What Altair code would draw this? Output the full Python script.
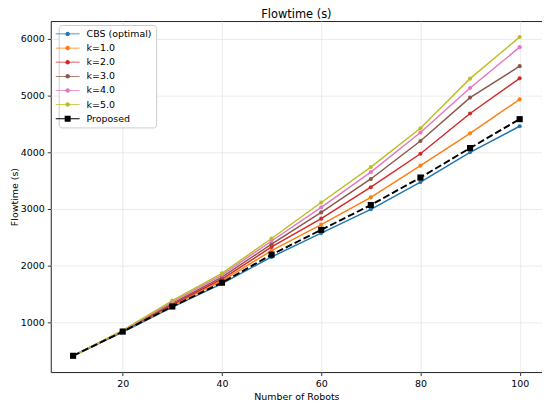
import altair as alt
import pandas as pd

robots = [10, 20, 30, 40, 50, 60, 70, 80, 90, 100]
series_names = ["CBS (optimal)", "k=1.0", "k=2.0", "k=3.0", "k=4.0", "k=5.0", "Proposed"]
cbs = [410, 830, 1270, 1685, 2155, 2575, 2995, 3475, 4000, 4460]
k1 = [410, 840, 1295, 1730, 2265, 2725, 3205, 3765, 4335, 4935]
k2 = [410, 845, 1315, 1765, 2330, 2830, 3385, 3975, 4685, 5305]
k3 = [410, 850, 1335, 1800, 2380, 2940, 3530, 4200, 4965, 5520]
k4 = [410, 855, 1360, 1835, 2435, 3030, 3650, 4350, 5135, 5855]
k5 = [410, 860, 1385, 1865, 2480, 3115, 3740, 4425, 5300, 6035]
proposed = [410, 837, 1280, 1700, 2195, 2632, 3070, 3555, 4075, 4585]
colors = ["#1f77b4", "#ff7f0e", "#d62728", "#8c564b", "#e377c2", "#bcbd22", "#000000"]
x_ticks = [20, 40, 60, 80, 100]
y_ticks = [1000, 2000, 3000, 4000, 5000, 6000]

all_values = [cbs, k1, k2, k3, k4, k5, proposed]
rows = []
for name, vals in zip(series_names, all_values):
    for xv, v in zip(robots, vals):
        rows.append({"robots": xv, "flowtime": v, "series": name})
df = pd.DataFrame(rows)

FONT = "DejaVu Sans"

circ_path = ("M-2.4,-0.075H2.4V0.075H-2.4Z"
             "M-0.46,0A0.46,0.46 0 1,1 0.46,0A0.46,0.46 0 1,1 -0.46,0Z")
sq_path = "M-2.4,-0.1H2.4V0.1H-2.4Z M-0.6,-0.6H0.6V0.6H-0.6Z"
shape_range = [circ_path] * 6 + [sq_path]

xs = alt.Scale(domain=[5.5, 104.5], nice=False, zero=False)
ys = alt.Scale(domain=[123, 6316], nice=False, zero=False)
cs = alt.Scale(domain=series_names, range=colors)

base = alt.Chart(df).encode(
    x=alt.X("robots:Q", scale=xs,
            axis=alt.Axis(values=x_ticks, title="Number of Robots", titlePadding=4)),
    y=alt.Y("flowtime:Q", scale=ys,
            axis=alt.Axis(values=y_ticks, format="d", title="Flowtime (s)", titlePadding=1)),
    color=alt.Color("series:N", scale=cs, legend=None),
)

others = base.transform_filter(alt.datum.series != "Proposed")
prop = base.transform_filter(alt.datum.series == "Proposed")

lines = others.mark_line(strokeWidth=1.45)
dots = others.mark_circle(size=17, opacity=1)
pline = prop.mark_line(strokeWidth=1.9, strokeDash=[7, 3])
pdots = prop.mark_square(size=38, opacity=1)

legend_layer = base.mark_point(filled=True, opacity=0).encode(
    color=alt.Color("series:N", scale=cs,
                    legend=alt.Legend(title=None, orient="none", legendX=8, legendY=4)),
    shape=alt.Shape("series:N", scale=alt.Scale(domain=series_names, range=shape_range),
                    legend=alt.Legend(title=None, orient="none", legendX=8, legendY=4)),
)

chart = alt.layer(legend_layer, lines, dots, pline, pdots).properties(
    width=494,
    height=353,
    padding={"left": 43, "top": 12, "right": 0, "bottom": 33},
    autosize=alt.AutoSizeParams(type="none"),
    title=alt.TitleParams("Flowtime (s)", fontSize=11.5, font=FONT, fontWeight="normal",
                          color="black", offset=1),
).configure_view(
    stroke="#222222", strokeWidth=1
).configure_axis(
    domain=False,
    grid=True,
    gridColor="#e6e6e6",
    gridWidth=0.8,
    tickColor="black",
    tickSize=3.5,
    tickWidth=0.8,
    labelFont=FONT,
    labelFontSize=9.5,
    labelColor="black",
    labelPadding=3,
    titleFont=FONT,
    titleFontSize=9.5,
    titleFontWeight="normal",
    titleColor="black",
).configure_legend(
    padding=4,
    labelFont=FONT,
    labelFontSize=9.5,
    labelColor="black",
    labelOffset=14,
    rowPadding=4.2,
    symbolSize=100,
    symbolOpacity=1,
    symbolStrokeWidth=0,
    strokeColor="#cccccc",
    fillColor="white",
    cornerRadius=3,
)

chart.save("out.html", embed_options={"renderer": "svg", "actions": False})
